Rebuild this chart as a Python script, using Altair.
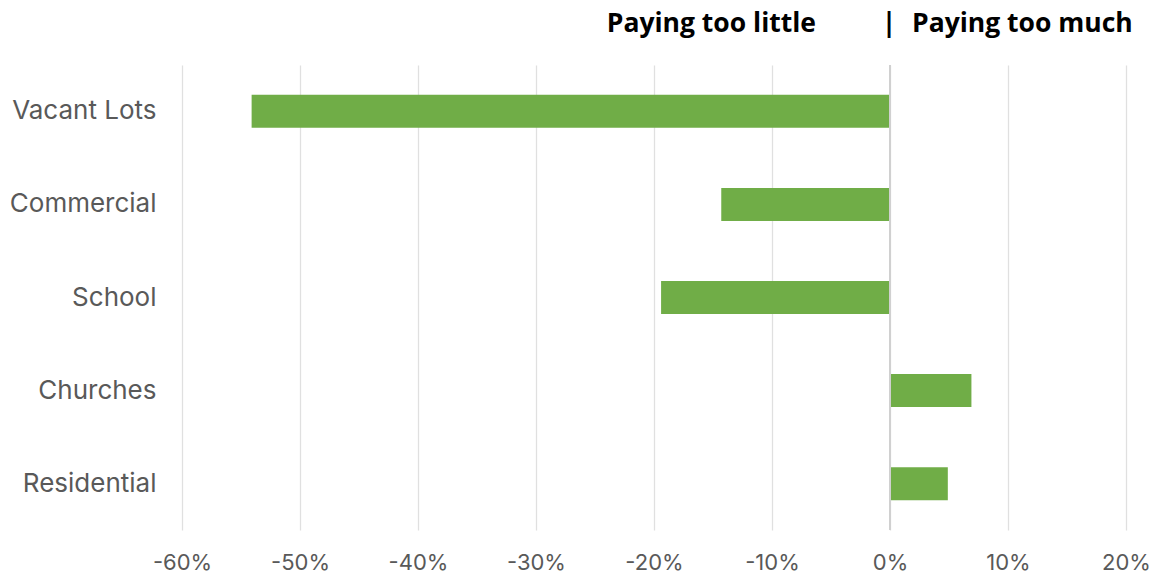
import altair as alt
import pandas as pd

categories = ["Vacant Lots", "Commercial", "School", "Churches", "Residential"]
values = [-0.541, -0.143, -0.194, 0.069, 0.049]
tick_values = [-0.6, -0.5, -0.4, -0.3, -0.2, -0.1, 0.0, 0.1, 0.2]

df = pd.DataFrame({"category": categories, "value": values})

FONT = "Inter"
HFONT = "Open Sans"
LEFT = 174

bars = alt.Chart(df).mark_bar(color="#70AD47").encode(
    y=alt.Y("category:N", sort=categories, title=None,
            scale=alt.Scale(paddingInner=0.645, paddingOuter=0.32),
            axis=alt.Axis(domain=False, ticks=False, labelFontSize=26,
                          labelColor="#595959", labelFont=FONT, labelPadding=26,
                          grid=False)),
    x=alt.X("value:Q", title=None,
            scale=alt.Scale(domain=[-0.6, 0.2], nice=False),
            axis=alt.Axis(values=tick_values, domain=False, ticks=False,
                          labelExpr="(datum.value < 0 ? '-' : '') + format(abs(datum.value), '.0%')",
                          labelFlush=False, labelOverlap=False,
                          labelFontSize=22, labelColor="#595959", labelFont=FONT,
                          labelPadding=22, gridColor="#e0e0e0", gridWidth=1.3)),
)

zero = alt.Chart(pd.DataFrame({"z": [0.0]})).mark_rule(color="#d0d0d0", strokeWidth=2).encode(
    x="z:Q"
)

def header(text, px, align):
    return alt.Chart(pd.DataFrame({"t": [text]})).mark_text(
        align=align, baseline="middle", fontSize=26.5, fontWeight="bold",
        font=HFONT, color="#000000"
    ).encode(text="t:N", x=alt.value(px - 184), y=alt.value(24 - 65))

h1 = header("Paying too little", 818, "right")
h2 = header("|", 891, "center")
h3 = header("Paying too much", 914, "left")

chart = alt.layer(bars, zero, h1, h2, h3).properties(
    width=944, height=465,
    padding={"left": LEFT, "top": 57, "right": 1144 - 944 - LEFT, "bottom": 50},
    autosize=alt.AutoSizeParams(type="none"),
).configure(background="white").configure_view(strokeWidth=0, stroke="transparent")

chart.save("out.html", embed_options={"renderer": "svg", "actions": False})
